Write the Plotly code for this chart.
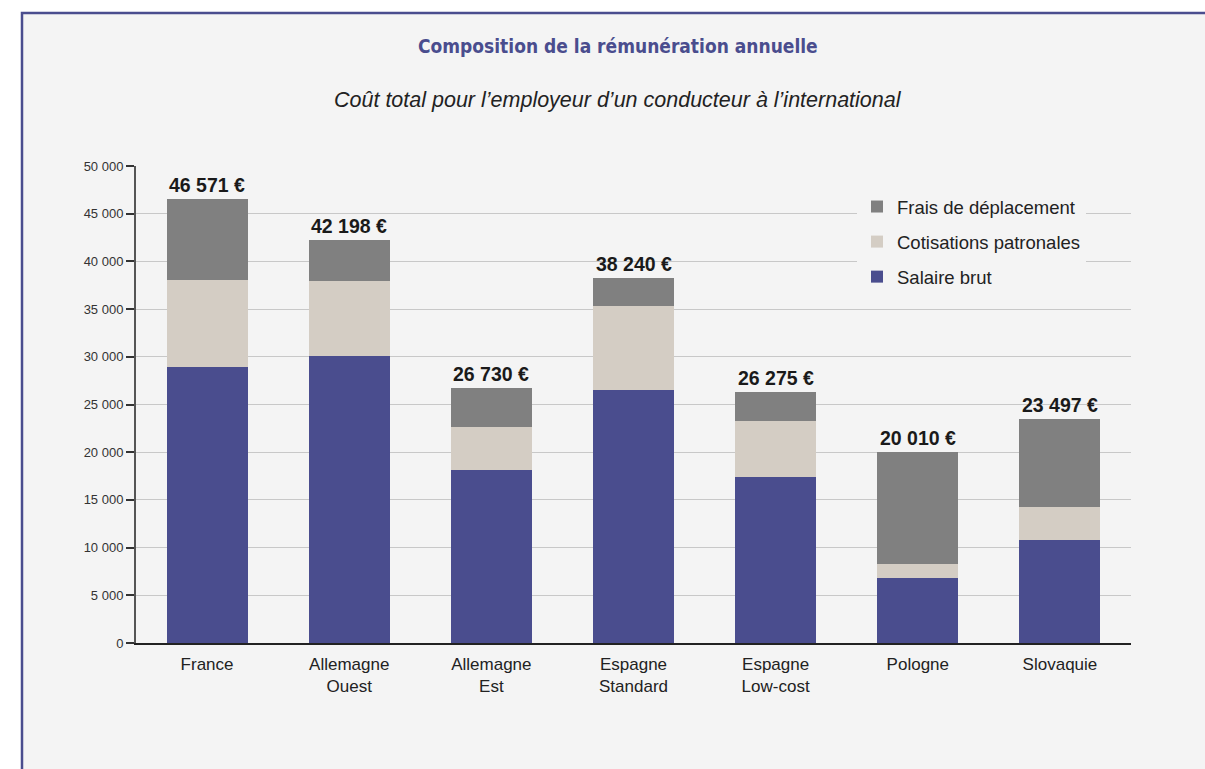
import plotly.graph_objects as go

categories = ["France", "Allemagne Ouest", "Allemagne Est", "Espagne Standard",
              "Espagne Low-cost", "Pologne", "Slovaquie"]
tick_labels = ["France", "Allemagne<br>Ouest", "Allemagne<br>Est", "Espagne<br>Standard",
               "Espagne<br>Low-cost", "Pologne", "Slovaquie"]
salaire_brut = [28950, 30100, 18180, 26530, 17410, 6820, 10830]
cotisations = [9120, 7870, 4470, 8840, 5900, 1470, 3430]
frais = [8501, 4228, 4080, 2870, 2965, 11720, 9237]
totaux = [46571, 42198, 26730, 38240, 26275, 20010, 23497]
y_ticks = [0, 5000, 10000, 15000, 20000, 25000, 30000, 35000, 40000, 45000, 50000]

BG = "#f4f4f4"
NAVY = "#4a4d8e"

fig = go.Figure()
fig.add_trace(go.Bar(x=categories, y=salaire_brut, name="Salaire brut",
                     marker=dict(color=NAVY, line=dict(width=0)),
                     legendgroup="a", legendrank=3))
fig.add_trace(go.Bar(x=categories, y=cotisations, name="Cotisations patronales",
                     marker=dict(color="#d4cdc4", line=dict(width=0)),
                     legendgroup="b", legendrank=2))
fig.add_trace(go.Bar(x=categories, y=frais, name="Frais de déplacement",
                     marker=dict(color="#808080", line=dict(width=0)),
                     legendgroup="c", legendrank=1))

for c, t in zip(categories, totaux):
    fig.add_annotation(x=c, y=t, text=f"{t:,}".replace(",", " ") + " €",
                       showarrow=False, yanchor="bottom", yshift=1,
                       font=dict(family="Liberation Sans, Arial, sans-serif", size=19.5,
                                 color="#1a1a1a", weight="bold"))

L, R, T, B = 136, 74, 166, 126
PW, PH = 1205 - L - R, 769 - T - B

def px(x):
    return (x - L) / PW

def py(y):
    return (769 - B - y) / PH

fig.add_annotation(xref="paper", yref="paper", x=px(618), y=py(46),
                   text="Composition de la rémunération annuelle", showarrow=False,
                   xanchor="center", yanchor="middle",
                   font=dict(family="Liberation Sans Narrow, DejaVu Sans Condensed, sans-serif",
                             size=19, color=NAVY, weight="bold"))
fig.add_annotation(xref="paper", yref="paper", x=px(618), y=py(100),
                   text="<i>Coût total pour l’employeur d’un conducteur à l’international</i>",
                   showarrow=False, xanchor="center", yanchor="middle",
                   font=dict(family="Liberation Sans, Arial, sans-serif", size=21.5, color="#222222"))

fig.add_shape(type="rect", xref="paper", yref="paper",
              x0=px(22), x1=px(1215), y0=py(785), y1=py(13),
              fillcolor=BG, line=dict(color=NAVY, width=2.5), layer="below")

fig.update_layout(
    width=1205, height=769,
    margin=dict(l=L, r=R, t=T, b=B),
    paper_bgcolor="white", plot_bgcolor="rgba(0,0,0,0)",
    barmode="stack", bargap=0.43,
    separators=", ",
    font=dict(family="Liberation Sans, Arial, sans-serif", color="#222222"),
    showlegend=True,
    legend=dict(x=px(857), y=py(188), xanchor="left", yanchor="top",
                bgcolor=BG, traceorder="grouped", tracegroupgap=8,
                font=dict(size=18.5, color="#222222"),
                itemclick=False, itemdoubleclick=False),
    xaxis=dict(tickmode="array", tickvals=categories, ticktext=tick_labels,
               tickfont=dict(size=17, color="#222222"), showline=True,
               linecolor="#222222", linewidth=1.5, ticks="", showgrid=False,
               ticklabelstandoff=5),
    yaxis=dict(range=[0, 50000], tickvals=y_ticks, tickformat=",d",
               tickfont=dict(size=13, color="#333333"),
               showline=True, linecolor="#555555", linewidth=2,
               ticks="outside", ticklen=8, tickwidth=1.5, tickcolor="#333333",
               showgrid=True, gridcolor="#c8c8c8", gridwidth=1, zeroline=False),
)

fig.write_html("out.html")
